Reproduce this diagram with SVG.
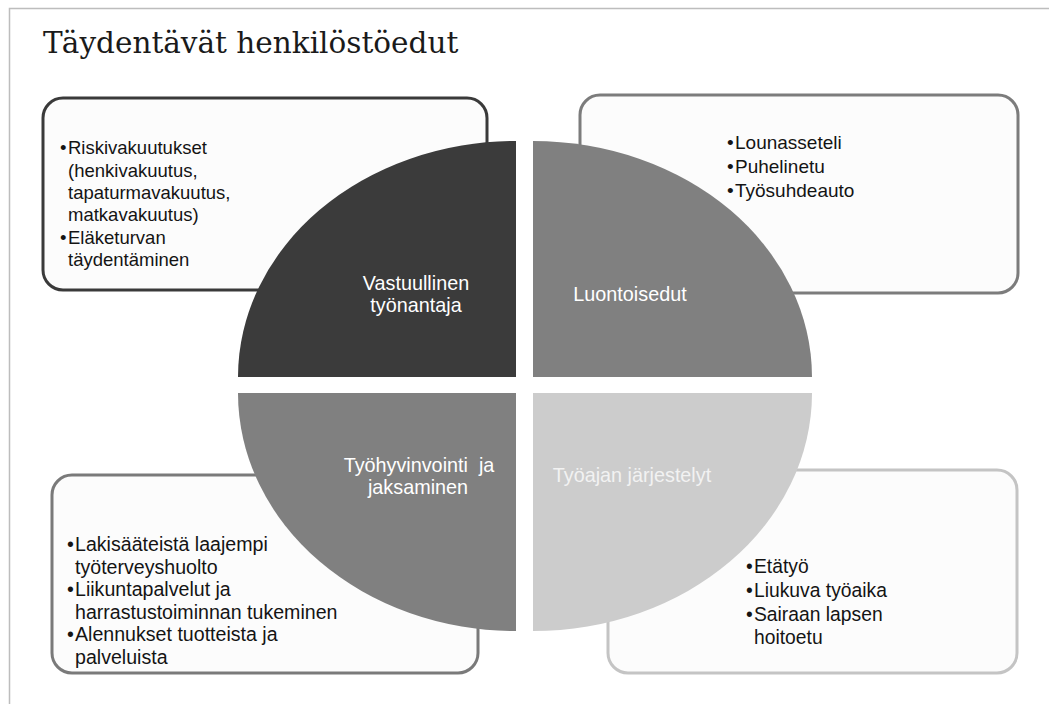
<svg xmlns="http://www.w3.org/2000/svg" width="1049" height="704" viewBox="0 0 1049 704">
<style>
.title{font-family:"DejaVu Serif","Liberation Serif",serif;font-size:29.5px;fill:#1a1a1a}
.box{fill:#fcfcfc;stroke-width:3}
.item{font-family:"Liberation Sans",Arial,sans-serif;font-size:19px;fill:#141414}
.lbl{font-family:"Liberation Sans",Arial,sans-serif;font-size:19.8px;fill:#ffffff;text-anchor:middle;white-space:pre}
</style>
<rect width="1049" height="704" fill="#ffffff"/>
<path d="M1049,8.5 H9.5 V704" fill="none" stroke="#bdbdbd" stroke-width="1.5"/>
<text class="title" x="43" y="53">Täydentävät henkilöstöedut</text>

<g id="box-tl">
<rect class="box" x="43" y="98" width="444" height="192" rx="20" stroke="#3a3a3a"/>
<text class="item" style="font-size:18.5px"><tspan x="60" y="154">•</tspan><tspan x="68" y="154">Riskivakuutukset</tspan><tspan x="68" y="177">(henkivakuutus,</tspan><tspan x="68" y="199">tapaturmavakuutus,</tspan><tspan x="68" y="221">matkavakuutus)</tspan><tspan x="60" y="244">•</tspan><tspan x="68" y="244">Eläketurvan</tspan><tspan x="68" y="266">täydentäminen</tspan></text>
</g>
<g id="box-tr">
<rect class="box" x="580" y="95" width="438" height="198" rx="20" stroke="#7c7c7c"/>
<text class="item"><tspan x="727" y="149">•</tspan><tspan x="735" y="149">Lounasseteli</tspan><tspan x="727" y="173">•</tspan><tspan x="735" y="173">Puhelinetu</tspan><tspan x="727" y="197">•</tspan><tspan x="735" y="197">Työsuhdeauto</tspan></text>
</g>
<g id="box-bl">
<rect class="box" x="52" y="475" width="426" height="198" rx="20" stroke="#7a7a7a"/>
<text class="item" style="font-size:19.6px"><tspan x="67" y="551">•</tspan><tspan x="75" y="551">Lakisääteistä laajempi</tspan><tspan x="75" y="573.5">työterveyshuolto</tspan><tspan x="67" y="596">•</tspan><tspan x="75" y="596">Liikuntapalvelut ja</tspan><tspan x="75" y="618.5">harrastustoiminnan tukeminen</tspan><tspan x="67" y="641">•</tspan><tspan x="75" y="641">Alennukset tuotteista ja</tspan><tspan x="75" y="663.5">palveluista</tspan></text>
</g>
<g id="box-br">
<rect class="box" x="608" y="470" width="409" height="203" rx="20" stroke="#c4c4c4"/>
<text class="item" style="font-size:19.3px"><tspan x="746" y="573">•</tspan><tspan x="754" y="573">Etätyö</tspan><tspan x="746" y="597">•</tspan><tspan x="754" y="597">Liukuva työaika</tspan><tspan x="746" y="621">•</tspan><tspan x="754" y="621">Sairaan lapsen</tspan><tspan x="754" y="644">hoitoetu</tspan></text>
</g>

<g id="q-tl">
<path d="M516,377 L238,377 A278,236 0 0 1 516,141 Z" fill="#3b3b3b"/>
<text class="lbl" x="416" y="290">Vastuullinen</text>
<text class="lbl" x="416" y="312">työnantaja</text>
</g>
<g id="q-tr">
<path d="M533,377 L533,141 A279,236 0 0 1 812,377 Z" fill="#808080"/>
<text class="lbl" x="630" y="301">Luontoisedut</text>
</g>
<g id="q-bl">
<path d="M516,393 L516,631 A278,238 0 0 1 238,393 Z" fill="#808080"/>
<text class="lbl" x="419" y="472">Työhyvinvointi  ja</text>
<text class="lbl" x="418" y="494">jaksaminen</text>
</g>
<g id="q-br">
<path d="M533,393 L812,393 A279,238 0 0 1 533,631 Z" fill="#cccccc"/>
<text class="lbl" x="632" y="482" style="fill:#f2f2f2">Työajan järjestelyt</text>
</g>
<g id="connectors"></g>
</svg>
